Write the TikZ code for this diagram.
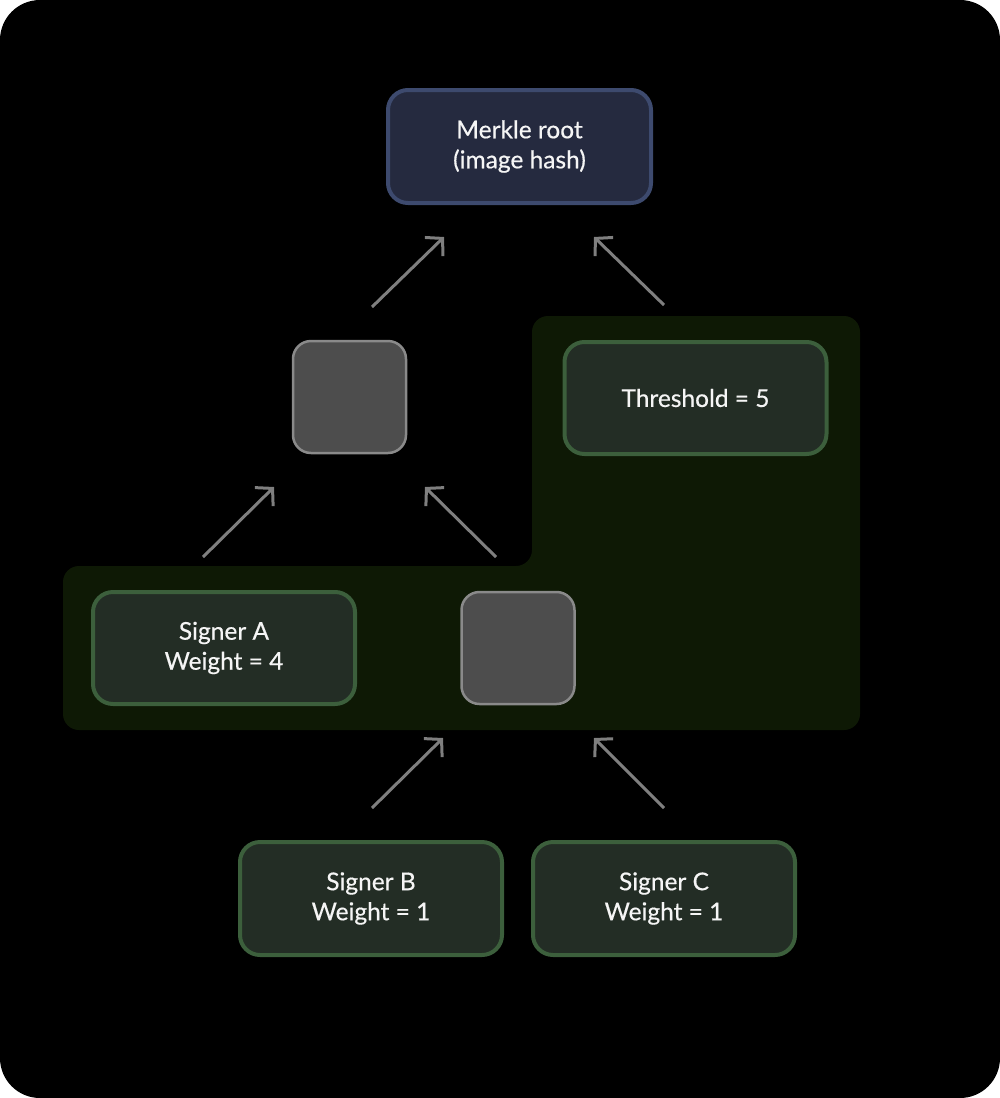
\documentclass[tikz,border=0pt]{standalone}
\usepackage{fontspec}
\setmainfont{Lato}
\newfontfamily\boxfont{Lato}[FakeBold=0.5]
\usetikzlibrary{arrows.meta}
\definecolor{grpbg}{HTML}{0E1905}
\definecolor{boxbg}{HTML}{232D25}
\definecolor{boxln}{HTML}{3C5F3C}
\definecolor{rootbg}{HTML}{252A3F}
\definecolor{rootln}{HTML}{3D4A6E}
\definecolor{sqbg}{HTML}{4D4D4D}
\definecolor{sqln}{HTML}{8A8A8A}
\definecolor{arrln}{HTML}{7F7F7F}
\definecolor{txt}{HTML}{F5F5F5}
\begin{document}
\begin{tikzpicture}[x=1pt, y=-1pt,
  box/.style={rectangle, rounded corners=20pt, line width=4pt, fill=boxbg, draw=boxln,
    minimum width=262pt, minimum height=112pt, align=center, text=txt,
    font=\boxfont\fontsize{24.5}{30}\selectfont},
  sq/.style={rectangle, rounded corners=18pt, line width=2.5pt, fill=sqbg, draw=sqln,
    minimum width=113pt, minimum height=112pt},
  arr/.style={draw=arrln, line width=3pt, -{Straight Barb[length=12pt, width=26pt]}}]
\useasboundingbox (0,0) rectangle (1000,1098);
\fill[white] (0,0) rectangle (1000,1098);
\fill[black, rounded corners=40pt] (0,0) rectangle (1000,1098);
\fill[grpbg, rounded corners=16pt] (63,566) -- (63,730) -- (860,730) -- (860,316) -- (532,316) -- (532,566) -- cycle;

\node[box, fill=rootbg, draw=rootln, minimum width=263pt, minimum height=113pt] (root) at (519.5,146.5) {Merkle root\\(image hash)};
\node[sq] (mid) at (349.5,397) {};
\node[box] (thr) at (695.5,398) {Threshold = 5};
\node[box] (sigA) at (224,648) {Signer A\\Weight = 4};
\node[sq] (pairBC) at (518,648) {};
\node[box, minimum height=113pt] (sigB) at (371,898.5) {Signer B\\Weight = 1};
\node[box, minimum height=113pt] (sigC) at (664,898.5) {Signer C\\Weight = 1};

\coordinate (a1s) at (372,307); \coordinate (a1e) at (444,237);
\coordinate (a2s) at (664,305); \coordinate (a2e) at (594,237);
\coordinate (a3s) at (203,557); \coordinate (a3e) at (274,487);
\coordinate (a4s) at (496,557); \coordinate (a4e) at (425,487);
\coordinate (a5s) at (372,808); \coordinate (a5e) at (443,738);
\coordinate (a6s) at (664,808); \coordinate (a6e) at (594,738);
\draw[arr] (a1s) -- (a1e);
\draw[arr] (a2s) -- (a2e);
\draw[arr] (a3s) -- (a3e);
\draw[arr] (a4s) -- (a4e);
\draw[arr] (a5s) -- (a5e);
\draw[arr] (a6s) -- (a6e);

\end{tikzpicture}
\end{document}
